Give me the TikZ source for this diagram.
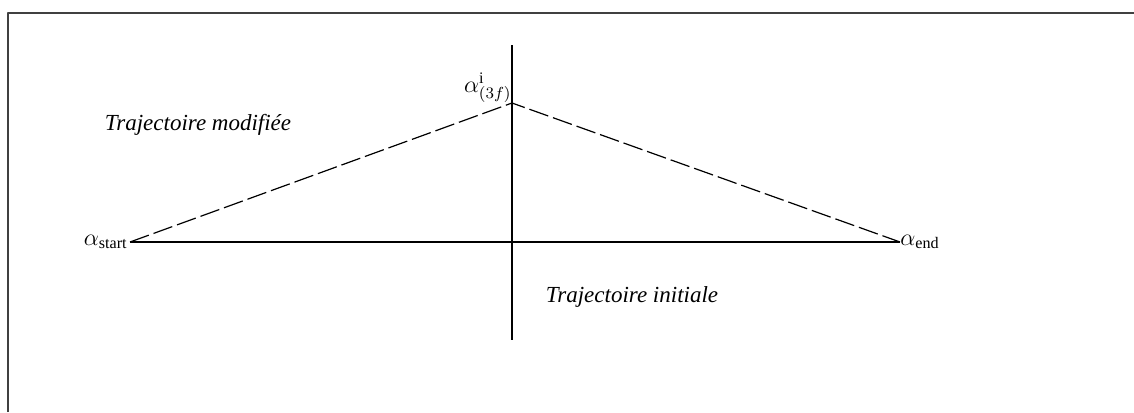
\documentclass[tikz,border=0pt]{standalone}
\usepackage{fontspec}
\setmainfont{Liberation Serif}
\begin{document}
\begin{tikzpicture}[x=0.5pt, y=-0.5pt, line cap=butt, line join=round,
    font=\fontsize{11.5}{14}\selectfont]
  \useasboundingbox (0,0) rectangle (1134,412);
  % Frame (cut at right and bottom)
  \draw[line width=1pt, black!75] (8,412) -- (8,13) -- (1134,13);

  % Points
  \coordinate (S) at (130,242);
  \coordinate (E) at (900,242);
  \coordinate (P) at (512,103);
  \coordinate (T) at (512,45);
  \coordinate (B) at (512,340);

  % Axes (initial trajectory and time line)
  \draw[line width=0.6pt] (S) -- (E);
  \draw[line width=0.6pt] (T) -- (B);

  % Modified trajectory (dashed)
  \draw[line width=0.6pt, dash pattern=on 10pt off 2.5pt] (S) -- (P) -- (E);

  % Labels
  \node[left=0pt, inner sep=1pt] (lstart) at (S) {$\alpha_{\mathrm{start}}$};
  \node[right=-1pt, inner sep=1pt] (lend) at (E) {$\alpha_{\mathrm{end}}$};
  \node[above left=-1pt, inner sep=1pt] (lpeak) at (P) {$\alpha^{\mathrm{i}}_{(3f)}$};
  \node[font=\fontsize{11.5}{14}\selectfont\itshape] (lmod) at (198,125) {Trajectoire modifiée};
  \node[font=\fontsize{11.5}{14}\selectfont\itshape] (linit) at (632,297) {Trajectoire initiale};
\end{tikzpicture}
\end{document}
